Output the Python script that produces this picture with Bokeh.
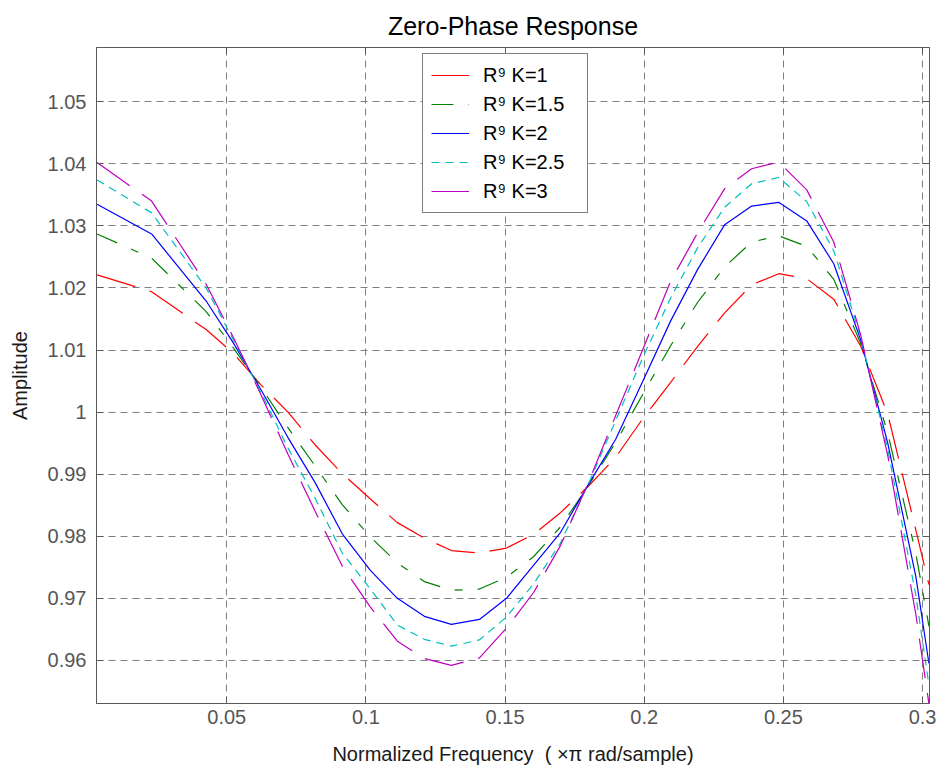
from bokeh.plotting import figure
from bokeh.models import Range1d, FixedTicker, LinearAxis, Legend, LegendItem
from bokeh.embed import file_html
from bokeh.resources import INLINE

# Normalized frequency (x pi rad/sample)
freq = [0.0034, 0.0230, 0.0426, 0.0523, 0.0623, 0.0720, 0.0818, 0.0915, 0.1016, 0.1113,
        0.1210, 0.1307, 0.1408, 0.1505, 0.1602, 0.1699, 0.1800, 0.1897, 0.1994, 0.2095,
        0.2192, 0.2289, 0.2386, 0.2483, 0.2584, 0.2681, 0.2778, 0.2875, 0.2976, 0.3023]

amp_k1 = [1.0221, 1.0194, 1.0133, 1.0095, 1.0044, 1.0000, 0.9947, 0.9901, 0.9860, 0.9822,
          0.9797, 0.9777, 0.9773, 0.9781, 0.9803, 0.9838, 0.9881, 0.9927, 0.9989, 1.0048,
          1.0106, 1.0160, 1.0205, 1.0223, 1.0215, 1.0182, 1.0106, 0.9997, 0.9810, 0.9722]

amp_k15 = [1.0287, 1.0248, 1.0162, 1.0104, 1.0040, 0.9975, 0.9913, 0.9851, 0.9799, 0.9757,
           0.9727, 0.9713, 0.9715, 0.9734, 0.9767, 0.9815, 0.9882, 0.9951, 1.0028, 1.0107,
           1.0177, 1.0234, 1.0274, 1.0284, 1.0267, 1.0214, 1.0110, 0.9966, 0.9772, 0.9655]

amp_k2 = [1.0335, 1.0287, 1.0179, 1.0112, 1.0036, 0.9959, 0.9886, 0.9804, 0.9745, 0.9700,
          0.9671, 0.9658, 0.9666, 0.9700, 0.9753, 0.9806, 0.9884, 0.9956, 1.0049, 1.0147,
          1.0230, 1.0302, 1.0332, 1.0338, 1.0308, 1.0239, 1.0116, 0.9950, 0.9735, 0.9595]

amp_k25 = [1.0374, 1.0321, 1.0200, 1.0117, 1.0032, 0.9942, 0.9861, 0.9773, 0.9715, 0.9657,
           0.9634, 0.9623, 0.9633, 0.9670, 0.9723, 0.9789, 0.9885, 0.9986, 1.0087, 1.0184,
           1.0265, 1.0330, 1.0368, 1.0378, 1.0339, 1.0260, 1.0120, 0.9940, 0.9705, 0.9560]

amp_k3 = [1.0402, 1.0340, 1.0206, 1.0121, 1.0028, 0.9932, 0.9840, 0.9752, 0.9686, 0.9631,
          0.9603, 0.9592, 0.9604, 0.9652, 0.9709, 0.9785, 0.9887, 0.9994, 1.0100, 1.0211,
          1.0289, 1.0360, 1.0392, 1.0403, 1.0358, 1.0274, 1.0124, 0.9930, 0.9674, 0.9530]

series_labels = ["R\u2079 K=1", "R\u2079 K=1.5", "R\u2079 K=2", "R\u2079 K=2.5", "R\u2079 K=3"]

x_ticks = [0.05, 0.1, 0.15, 0.2, 0.25, 0.3]
x_tick_labels = ["0.05", "0.1", "0.15", "0.2", "0.25", "0.3"]
y_ticks = [0.96, 0.97, 0.98, 0.99, 1.0, 1.01, 1.02, 1.03, 1.04, 1.05]
y_tick_labels = ["0.96", "0.97", "0.98", "0.99", "1", "1.01", "1.02", "1.03", "1.04", "1.05"]

FONT = "Liberation Sans"
AXIS_COLOR = "#5a5a5a"

p = figure(width=940, height=771, output_backend="svg", toolbar_location=None,
           x_range=Range1d(0.0032, 0.3025), y_range=Range1d(0.95306, 1.05874),
           min_border_left=96, min_border_right=11, min_border_top=47, min_border_bottom=68,
           title="Zero-Phase Response")
p.background_fill_color = "white"
p.border_fill_color = "white"
p.outline_line_color = AXIS_COLOR

p.title.align = "center"
p.title.text_font = FONT
p.title.text_font_size = "25px"
p.title.text_font_style = "normal"
p.title.text_color = "black"
p.title.standoff = 16

# extra framing axes (MATLAB-style box with ticks on all four sides)
p.add_layout(LinearAxis(), "right")
p.add_layout(LinearAxis(), "above")

for ax in p.xaxis + p.yaxis:
    ax.axis_line_color = AXIS_COLOR
    ax.major_tick_line_color = AXIS_COLOR
    ax.major_tick_in = 7
    ax.major_tick_out = 0
    ax.minor_tick_line_color = None
    ax.major_label_text_font = FONT
    ax.major_label_text_font_size = "20px"
    ax.major_label_text_color = "#555555"
    ax.axis_label_text_font = FONT
    ax.axis_label_text_font_size = "20px"
    ax.axis_label_text_font_style = "normal"
    ax.axis_label_text_color = "#1a1a1a"

for ax in p.xaxis:
    ax.ticker = FixedTicker(ticks=x_ticks)
    ax.major_label_overrides = dict(zip(x_ticks, x_tick_labels))
for ax in p.yaxis:
    ax.ticker = FixedTicker(ticks=y_ticks)
    ax.major_label_overrides = dict(zip(y_ticks, y_tick_labels))

p.below[0].major_label_standoff = 6
p.below[0].axis_label = "Normalized Frequency\u00a0 ( \u00d7\u03c0 rad/sample)"
p.below[0].axis_label_standoff = 16
p.left[0].major_label_standoff = 10
p.left[0].axis_label = "Amplitude"
p.left[0].axis_label_standoff = 14

for ax in (p.right[0], p.above[-1]):
    ax.major_label_text_color = None
    ax.major_label_text_font_size = "1px"
    ax.major_label_standoff = 0

p.xgrid.ticker = FixedTicker(ticks=x_ticks)
p.ygrid.ticker = FixedTicker(ticks=y_ticks)
for g in (p.xgrid, p.ygrid):
    g.grid_line_color = "#808080"
    g.grid_line_dash = "7 5"
    g.grid_line_width = 1

styles = [
    (amp_k1, "#ff0000", "40 15"),
    (amp_k15, "#008000", "22 15 8 15"),
    (amp_k2, "#0000ff", "solid"),
    (amp_k25, "#00bfbf", "8 6"),
    (amp_k3, "#bf00bf", "40 15"),
]
items = []
for (vals, color, dash), lab in zip(styles, series_labels):
    r = p.line(freq, vals, line_color=color, line_width=1.2, line_dash=dash)
    items.append(LegendItem(label=lab, renderers=[r]))

legend = Legend(items=items, location=(326, 490))
legend.label_text_font = FONT
legend.label_text_font_size = "20px"
legend.label_text_color = "black"
legend.glyph_width = 38
legend.glyph_height = 26
legend.label_height = 26
legend.label_width = 96
legend.label_standoff = 14
legend.spacing = 3
legend.padding = 8
legend.margin = 0
legend.border_line_color = "black"
legend.border_line_width = 1
legend.background_fill_color = "white"
legend.background_fill_alpha = 1
p.add_layout(legend)

open("out.html", "w").write(file_html(p, INLINE))
